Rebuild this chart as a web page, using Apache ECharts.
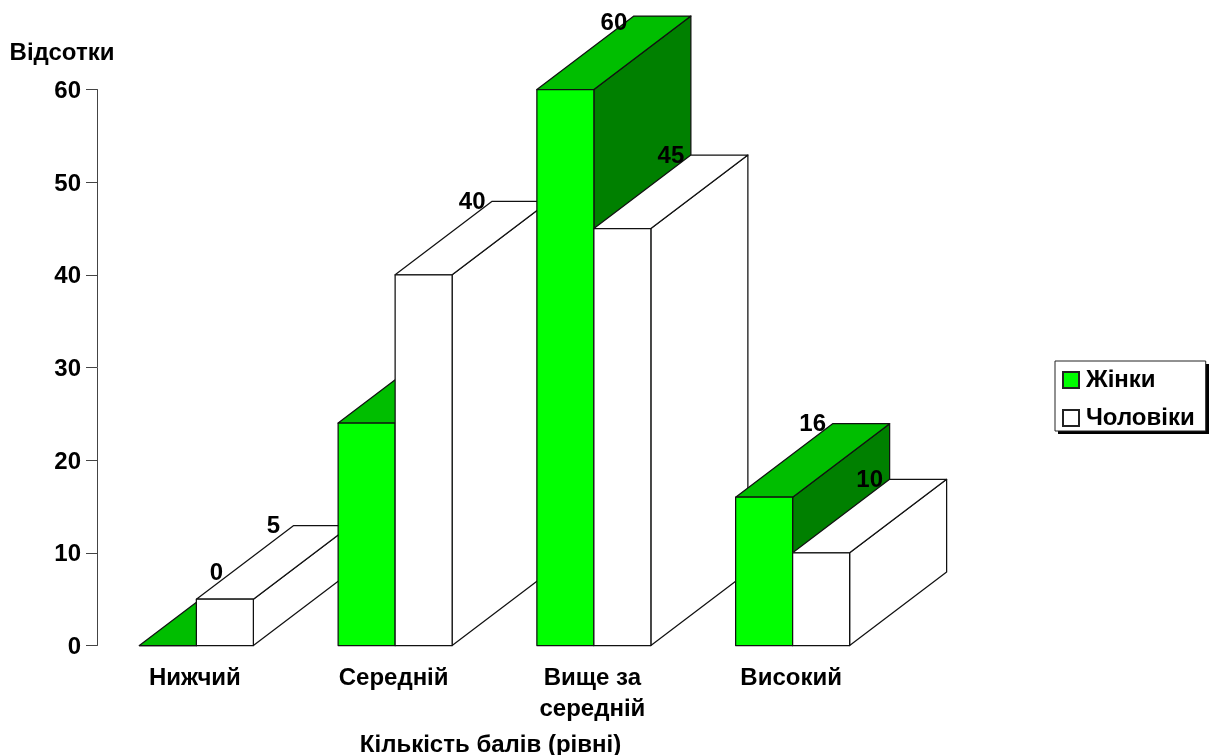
<!DOCTYPE html>
<html><head><meta charset="utf-8">
<style>html,body{margin:0;padding:0;background:#fff}#c{width:1212px;height:755px}</style>
<script src="https://cdn.jsdelivr.net/npm/echarts@6/dist/echarts.min.js"></script>
</head><body><div id="c"></div>
<script>
const categories = ['Нижчий', 'Середній', 'Вище за\nсередній', 'Високий'];
const women = [0, 24, 60, 16];
const men = [5, 40, 45, 10];
const yTicks = { min: 0, max: 60, interval: 10 };
const FONT = '"Liberation Sans", Arial, sans-serif';
const FS = 24;
const DEPTH_X = 97, DEPTH_Y = -73.5, BAR_FRAC = 57 / 198.75;

function bar3d(seriesPos, colors) {
  return function (params, api) {
    const i = api.value(0), v = api.value(1);
    const base = api.coord([i, 0]), top = api.coord([i, v]);
    const w = api.size([1, 0])[0] * BAR_FRAC;
    const x0 = base[0] + (seriesPos - 1) * w, x1 = x0 + w;
    const y0 = base[1], y1 = top[1];
    const z = i * 100 + seriesPos * 10;
    const st = c => ({ fill: c, stroke: '#111', lineWidth: 1.25, lineJoin: 'round' });
    const children = [
      { type: 'polygon', z2: z + 1, shape: { points: [[x1, y0], [x1 + DEPTH_X, y0 + DEPTH_Y], [x1 + DEPTH_X, y1 + DEPTH_Y], [x1, y1]] }, style: st(colors[2]) },
      { type: 'polygon', z2: z + 2, shape: { points: [[x0, y1], [x1, y1], [x1 + DEPTH_X, y1 + DEPTH_Y], [x0 + DEPTH_X, y1 + DEPTH_Y]] }, style: st(colors[1]) },
      { type: 'polygon', z2: z + 3, shape: { points: [[x0, y0], [x1, y0], [x1, y1], [x0, y1]] }, style: st(colors[0]) }
    ];
    const ly = Math.max(y1 + DEPTH_Y, 22) + 1;
    children.push({
      type: 'text', z2: z + 4,
      x: x0 + DEPTH_X - 20, y: ly,
      style: { text: String(v), fill: '#000', font: 'bold ' + FS + 'px ' + FONT, align: 'center', verticalAlign: 'middle' }
    });
    return { type: 'group', children };
  };
}

const chart = echarts.init(document.getElementById('c'), null, { renderer: 'canvas' });
chart.setOption({
  animation: false,
  backgroundColor: '#fff',
  grid: { left: 97, top: 89.5, width: 795, height: 556, containLabel: false, outerBoundsMode: 'none' },
  legend: {
    orient: 'vertical', left: 1055, top: 361, z: 5,
    backgroundColor: '#fff', borderColor: '#222', borderWidth: 1,
    padding: [7, 11, 1, 7], itemGap: 14, itemWidth: 16, itemHeight: 16, icon: 'rect',
    textStyle: { fontFamily: FONT, fontWeight: 'bold', fontSize: FS, color: '#000', padding: [0, 0, 0, 2] },
    data: ['Жінки', 'Чоловіки']
  },
  graphic: [{ type: 'rect', z: 1, silent: true, shape: { x: 1058, y: 364, width: 151, height: 70 }, style: { fill: '#000' } }],
  xAxis: {
    type: 'category', data: categories,
    axisLine: { show: false }, axisTick: { show: false }, splitLine: { show: false },
    axisLabel: { fontFamily: FONT, fontWeight: 'bold', fontSize: FS, color: '#000', margin: 17, lineHeight: 31, interval: 0, padding: [0, 3, 0, 0] },
    name: 'Кількість балів (рівні)', nameLocation: 'middle', nameGap: 88,
    nameTextStyle: { fontFamily: FONT, fontWeight: 'bold', fontSize: FS, color: '#000', padding: [0, 8, 0, 0] }
  },
  yAxis: {
    type: 'value', min: yTicks.min, max: yTicks.max, interval: yTicks.interval,
    splitLine: { show: false },
    axisLine: { show: true, lineStyle: { color: '#444', width: 1 } },
    axisTick: { show: true, length: 11, lineStyle: { color: '#444', width: 1 } },
    axisLabel: { fontFamily: FONT, fontWeight: 'bold', fontSize: FS, color: '#000', margin: 16, formatter: '{t|{value}}', rich: { t: { fontFamily: FONT, fontWeight: 'bold', fontSize: FS, color: '#000', padding: [4, 0, 0, 0] } } },
    name: 'Відсотки', nameLocation: 'end', nameGap: 24,
    nameTextStyle: { fontFamily: FONT, fontWeight: 'bold', fontSize: FS, color: '#000', align: 'center', padding: [0, 70, 0, 0] }
  },
  series: [
    { name: 'Жінки', type: 'custom', coordinateSystem: 'cartesian2d', clip: false,
      itemStyle: { color: '#00FF00', borderColor: '#222', borderWidth: 1 },
      renderItem: bar3d(0, ['#00FF00', '#00BE00', '#008000']),
      encode: { x: 0, y: 1 }, data: women.map((v, i) => [i, v]) },
    { name: 'Чоловіки', type: 'custom', coordinateSystem: 'cartesian2d', clip: false,
      itemStyle: { color: '#FFFFFF', borderColor: '#222', borderWidth: 1 },
      renderItem: bar3d(1, ['#FFFFFF', '#FFFFFF', '#FFFFFF']),
      encode: { x: 0, y: 1 }, data: men.map((v, i) => [i, v]) }
  ]
});
</script></body></html>
